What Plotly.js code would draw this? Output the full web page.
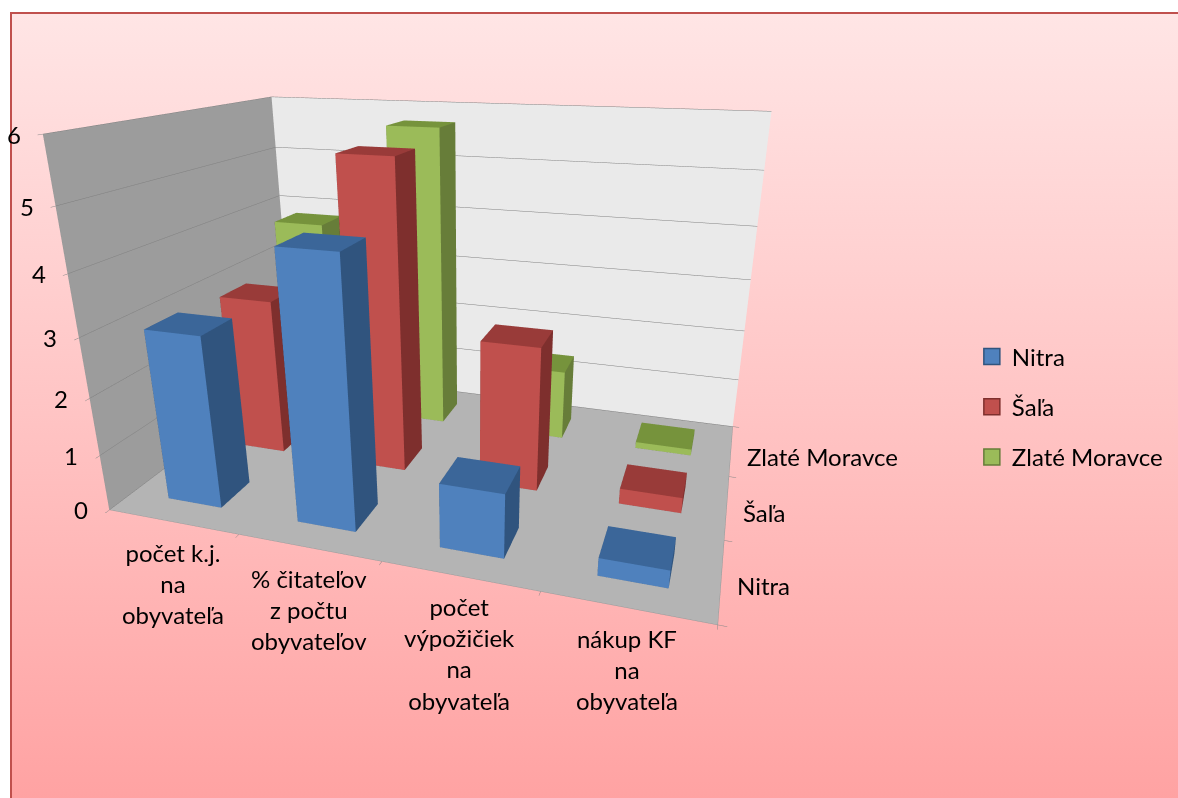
<!DOCTYPE html>
<html>
<head>
<meta charset="utf-8">
<script src="https://cdn.plot.ly/plotly-3.0.1.min.js"></script>
<style>
  html, body { margin:0; padding:0; background:#ffffff; width:1178px; height:798px; overflow:hidden; }
  #frame { position:absolute; left:10px; top:12px; width:1180px; height:800px;
           border-left:2px solid #C0504D; border-top:2px solid #C0504D;
           background: linear-gradient(to bottom, #FFE5E5 0%, #FFC4C4 50%, #FFA1A1 100%); }
  #chart { position:absolute; left:0; top:0; width:1178px; height:798px; }
</style>
</head>
<body>
<div id="frame"></div>
<div id="chart"></div>
<script>
// ---- data ----
const categories = ['počet k.j.<br>na<br>obyvateľa', '% čitateľov<br>z počtu<br>obyvateľov', 'počet<br>výpožičiek<br>na<br>obyvateľa', 'nákup KF<br>na<br>obyvateľa'];
const seriesNames = ['Nitra', 'Šaľa', 'Zlaté Moravce'];
const nitra = [3.0, 4.5, 1.1, 0.3];
const sala = [2.9, 5.5, 2.6, 0.28];
const zlateMoravce = [3.8, 5.7, 1.35, 0.12];
const zTicks = [0, 1, 2, 3, 4, 5, 6];

// ---- styles ----
const seriesValues = [nitra, sala, zlateMoravce];
const frontColors = ['#4F81BD', '#C0504D', '#9BBB59'];
const sideColors  = ['#30547E', '#7E2F2D', '#677D39'];
const topColors   = ['#3B6699', '#993B39', '#76933C'];
const barW = 0.42, barD = 0.42;
const xRange = [-0.5, categories.length - 0.5];
const yRange = [-0.5, seriesNames.length - 0.5];

function boxesTrace(vals, row, k) {
  const x = [], y = [], z = [], I = [], J = [], K = [], fc = [];
  vals.forEach((h, i) => {
    const b = x.length;
    const x0 = i - barW/2, x1 = i + barW/2, y0 = row - barD/2, y1 = row + barD/2;
    const pts = [[x0,y0,0],[x1,y0,0],[x1,y1,0],[x0,y1,0],[x0,y0,h],[x1,y0,h],[x1,y1,h],[x0,y1,h]];
    pts.forEach(p => { x.push(p[0]); y.push(p[1]); z.push(p[2]); });
    const faces = [
      [[0,1,5],[0,5,4], frontColors[k]],
      [[1,2,6],[1,6,5], sideColors[k]],
      [[4,5,6],[4,6,7], topColors[k]],
      [[3,2,6],[3,6,7], sideColors[k]],
      [[0,3,7],[0,7,4], sideColors[k]],
      [[0,1,2],[0,2,3], sideColors[k]]
    ];
    faces.forEach(f => {
      [f[0], f[1]].forEach(t => { I.push(b+t[0]); J.push(b+t[1]); K.push(b+t[2]); fc.push(f[2]); });
    });
  });
  return {
    type: 'mesh3d', x, y, z, i: I, j: J, k: K, facecolor: fc,
    flatshading: true, showlegend: false, hoverinfo: 'skip', name: seriesNames[k],
    lighting: {ambient: 1, diffuse: 0, specular: 0, roughness: 1, fresnel: 0},
    showscale: false
  };
}

const traces = seriesValues.map((v, k) => boxesTrace(v, k, k));
seriesNames.forEach((n, k) => {
  traces.push({
    type: 'scatter', mode: 'markers', x: [null], y: [null], name: n, legendgroup: n,
    marker: {symbol: 'square', size: 16, color: frontColors[k], line: {color: sideColors[k], width: 1.5}},
    hoverinfo: 'skip', xaxis: 'x', yaxis: 'y'
  });
});

const font = {family: 'Lato, "Open Sans", sans-serif', size: 24, color: '#000000'};

const annotations = [];
categories.forEach((c, i) => annotations.push({
  x: i, y: yRange[0], z: 0, text: c, showarrow: false, xanchor: 'center', yanchor: 'top',
  yshift: -14, font: font
}));
zTicks.forEach(v => annotations.push({
  x: xRange[0], y: yRange[0], z: v, text: String(v), showarrow: false, xanchor: 'right', yanchor: 'middle',
  xshift: -20, font: font
}));
seriesNames.forEach((n, j) => annotations.push({
  x: xRange[1], y: j, z: 0, text: n, showarrow: false, xanchor: 'left', yanchor: 'middle',
  xshift: 14, yshift: -6, font: font
}));

const layout = {
  width: 1178, height: 798,
  paper_bgcolor: 'rgba(0,0,0,0)', plot_bgcolor: 'rgba(0,0,0,0)',
  margin: {l: 0, r: 0, t: 0, b: 0},
  font: font,
  showlegend: true,
  legend: {x: 0.825, y: 0.49, xanchor: 'left', yanchor: 'middle', bgcolor: 'rgba(0,0,0,0)',
           font: font, tracegroupgap: 16},
  xaxis: {visible: false, domain: [0.99, 1]},
  yaxis: {visible: false, domain: [0.99, 1]},
  scene: {
    domain: {x: [0.0, 0.8], y: [0.1, 1.0]},
    bgcolor: 'rgba(0,0,0,0)',
    aspectmode: 'manual',
    aspectratio: {x: 5.3, y: 3.45, z: 3.3},
    camera: {eye: {x: 2.48, y: -7.2, z: 2.48}, center: {x: 0.22, y: 0, z: -0.5}, up: {x:0,y:0,z:1},
             projection: {type: 'perspective'}},
    annotations: annotations,
    xaxis: {range: xRange, showgrid: false, showticklabels: false, tickvals: [-0.5, 0.5, 1.5, 2.5, 3.5],
            ticks: 'outside', tickcolor: '#888', ticklen: 6, showline: true, linecolor: '#999',
            showbackground: true, backgroundcolor: '#9C9C9C', title: {text: ''}, zeroline: false,
            showspikes: false},
    yaxis: {range: yRange, showgrid: false, showticklabels: false, tickvals: [-0.5, 0.5, 1.5, 2.5],
            ticks: 'outside', tickcolor: '#888', showline: true, linecolor: '#999',
            showbackground: true, backgroundcolor: '#EAEAEA', title: {text: ''}, zeroline: false,
            showspikes: false},
    zaxis: {range: [0, 6], tickvals: zTicks, showgrid: true, gridcolor: '#808080', gridwidth: 1,
            showticklabels: false, ticks: 'outside', tickcolor: '#888', showline: true, linecolor: '#999',
            showbackground: true, backgroundcolor: '#B4B4B4', title: {text: ''}, zeroline: false,
            showspikes: false}
  }
};

Plotly.newPlot('chart', traces, layout, {displayModeBar: false});
</script>
</body>
</html>
